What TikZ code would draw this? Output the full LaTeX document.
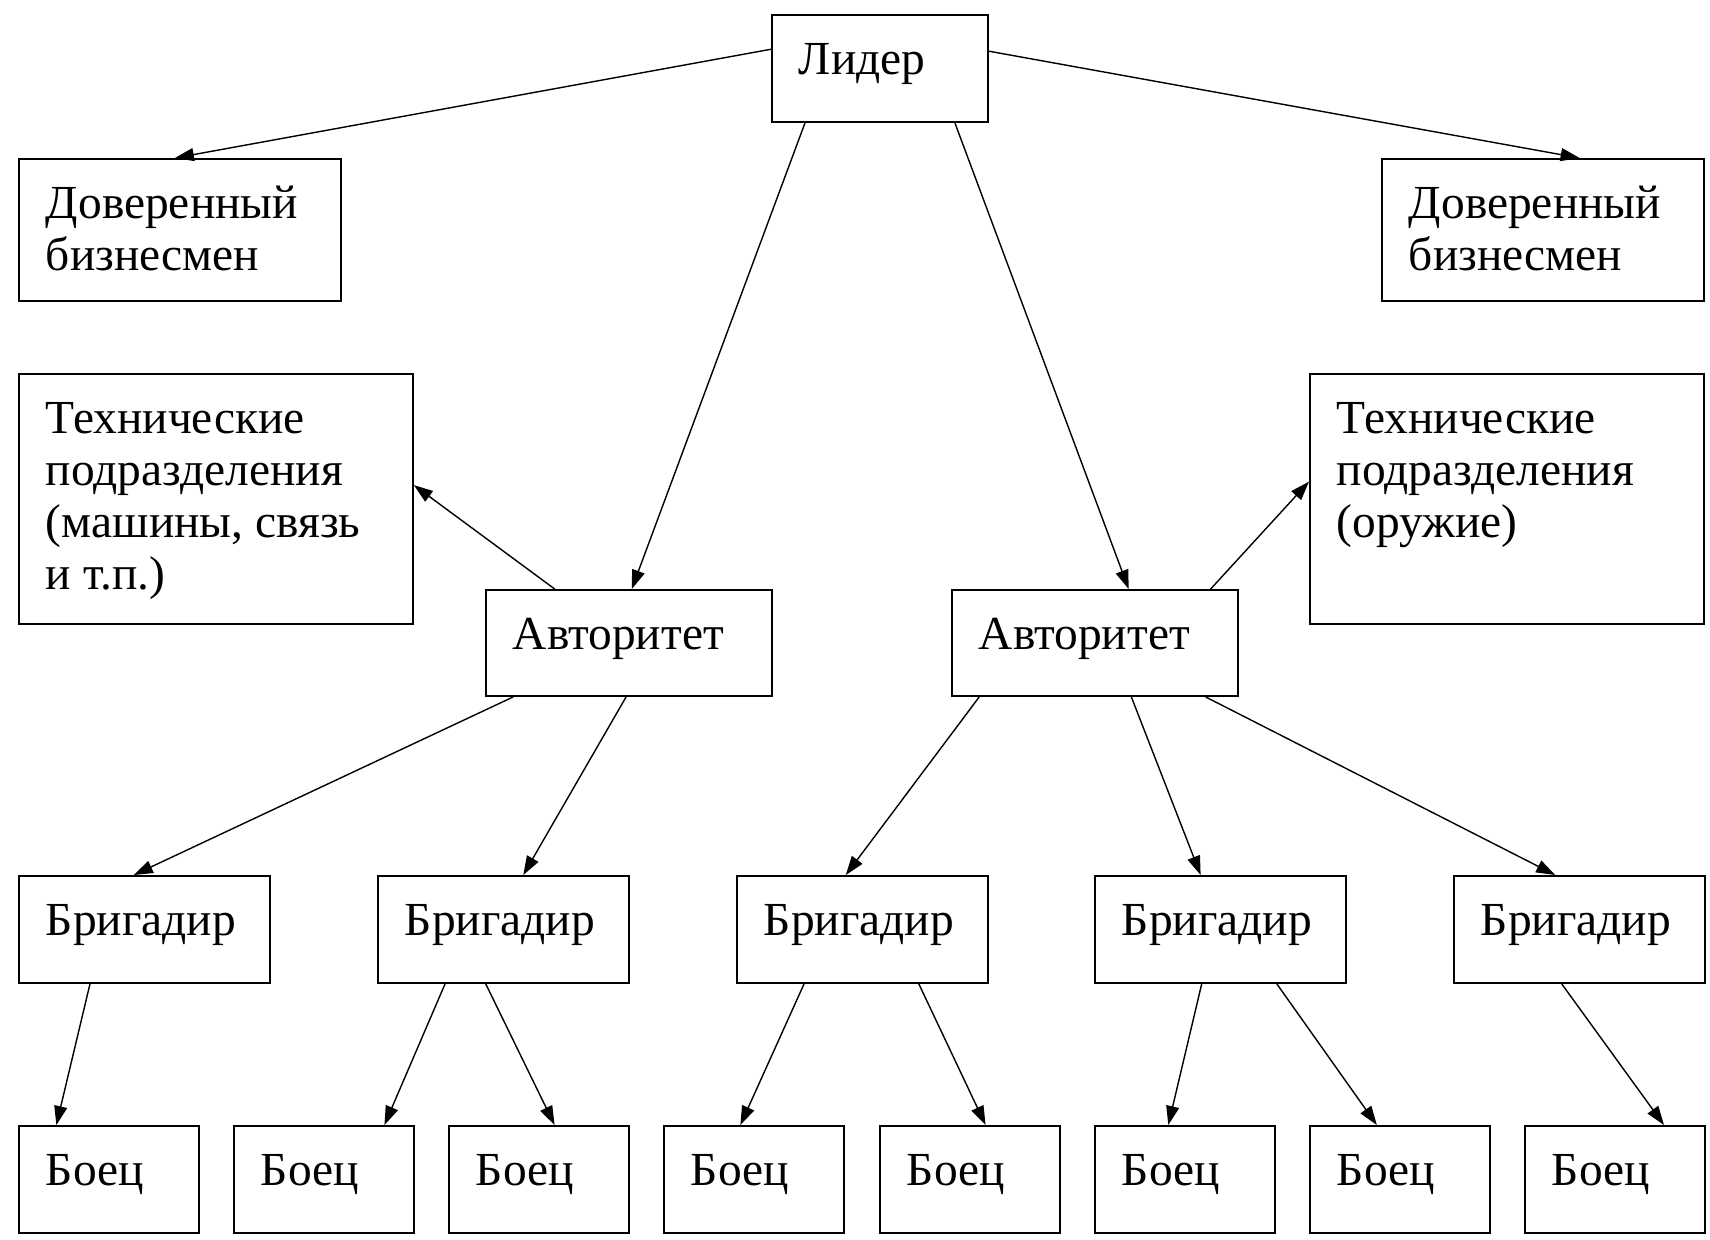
\documentclass[tikz,border=0pt]{standalone}
\usepackage{fontspec}
\setmainfont{Liberation Serif}
\usetikzlibrary{arrows.meta}
\newcommand{\boxtext}[3]{\parbox[t][#2][t]{#1}{\raggedright\strut#3}}
\tikzset{
  unit/.style={draw, line width=1.1pt, anchor=north west, inner xsep=0.54cm, inner ysep=0.47cm, font=\fontsize{27}{29.6}\selectfont},
  link/.style={-{Triangle[length=0.38cm, width=0.26cm]}, line width=0.8pt},
}
\begin{document}
\begin{tikzpicture}[x=0.02cm, y=-0.02cm]
        \fill[white] (0,0) rectangle (1710,1240);
        \useasboundingbox (0,0) rectangle (1710,1240);

        % top level
        \node[unit] (lead) at (771,14) {\boxtext{3.24cm}{1.2cm}{Лидер}};
        \node[unit] (trustL) at (18,158) {\boxtext{5.36cm}{1.9cm}{Доверенный\\бизнесмен}};
        \node[unit] (trustR) at (1381,158) {\boxtext{5.36cm}{1.9cm}{Доверенный\\бизнесмен}};
        \node[unit] (techL) at (18,373) {\boxtext{6.8cm}{4.06cm}{Технические\\подразделения\\(машины, связь\\и т.п.)}};
        \node[unit] (techR) at (1309,373) {\boxtext{6.8cm}{4.06cm}{Технические\\подразделения\\(оружие)}};
        \node[unit] (authL) at (485,589) {\boxtext{4.64cm}{1.18cm}{Авторитет}};
        \node[unit] (authR) at (951,589) {\boxtext{4.64cm}{1.18cm}{Авторитет}};

        % brigadiers
        \node[unit] (brig1) at (18,875) {\boxtext{3.94cm}{1.2cm}{Бригадир}};
        \node[unit] (brig2) at (377,875) {\boxtext{3.94cm}{1.2cm}{Бригадир}};
        \node[unit] (brig3) at (736,875) {\boxtext{3.94cm}{1.2cm}{Бригадир}};
        \node[unit] (brig4) at (1094,875) {\boxtext{3.94cm}{1.2cm}{Бригадир}};
        \node[unit] (brig5) at (1453,875) {\boxtext{3.94cm}{1.2cm}{Бригадир}};

        % fighters
        \node[unit] (f1) at (18,1125) {\boxtext{2.52cm}{1.2cm}{Боец}};
        \node[unit] (f2) at (233,1125) {\boxtext{2.52cm}{1.2cm}{Боец}};
        \node[unit] (f3) at (448,1125) {\boxtext{2.52cm}{1.2cm}{Боец}};
        \node[unit] (f4) at (663,1125) {\boxtext{2.52cm}{1.2cm}{Боец}};
        \node[unit] (f5) at (879,1125) {\boxtext{2.52cm}{1.2cm}{Боец}};
        \node[unit] (f6) at (1094,1125) {\boxtext{2.52cm}{1.2cm}{Боец}};
        \node[unit] (f7) at (1309,1125) {\boxtext{2.52cm}{1.2cm}{Боец}};
        \node[unit] (f8) at (1524,1125) {\boxtext{2.52cm}{1.2cm}{Боец}};

        \draw[link] (lead.170.8) -- (trustL.94);
        \draw[link] (lead.9.2) -- (trustR.63.1);
        \draw[link] (lead.216.6) -- (authL.87.8);
        \draw[link] (lead.324.1) -- (authR.58.9);
        \draw[link] (authL.144.4) -- (techL.4.6);
        \draw[link] (authR.25.7) -- (techR.175.4);
        \draw[link] (authL.205.3) -- (brig1.101.1);
        \draw[link] (authL.267.8) -- (brig2.70.9);
        \draw[link] (authR.205.5) -- (brig3.107.1);
        \draw[link] (authR.304.2) -- (brig4.110);
        \draw[link] (authR.334.3) -- (brig5.114.6);
        \draw[link] (brig1.225.5) -- (f1.134.7);
        \draw[link] (brig2.223.9) -- (f2.42.7);
        \draw[link] (brig2.252.9) -- (f3.74.3);
        \draw[link] (brig3.223.9) -- (f4.104.7);
        \draw[link] (brig3.316.1) -- (f5.74.3);
        \draw[link] (brig4.251.9) -- (f6.107.6);
        \draw[link] (brig4.316.1) -- (f7.113.3);
        \draw[link] (brig5.252.9) -- (f8.48.1);
      \end{tikzpicture}
\end{document}
